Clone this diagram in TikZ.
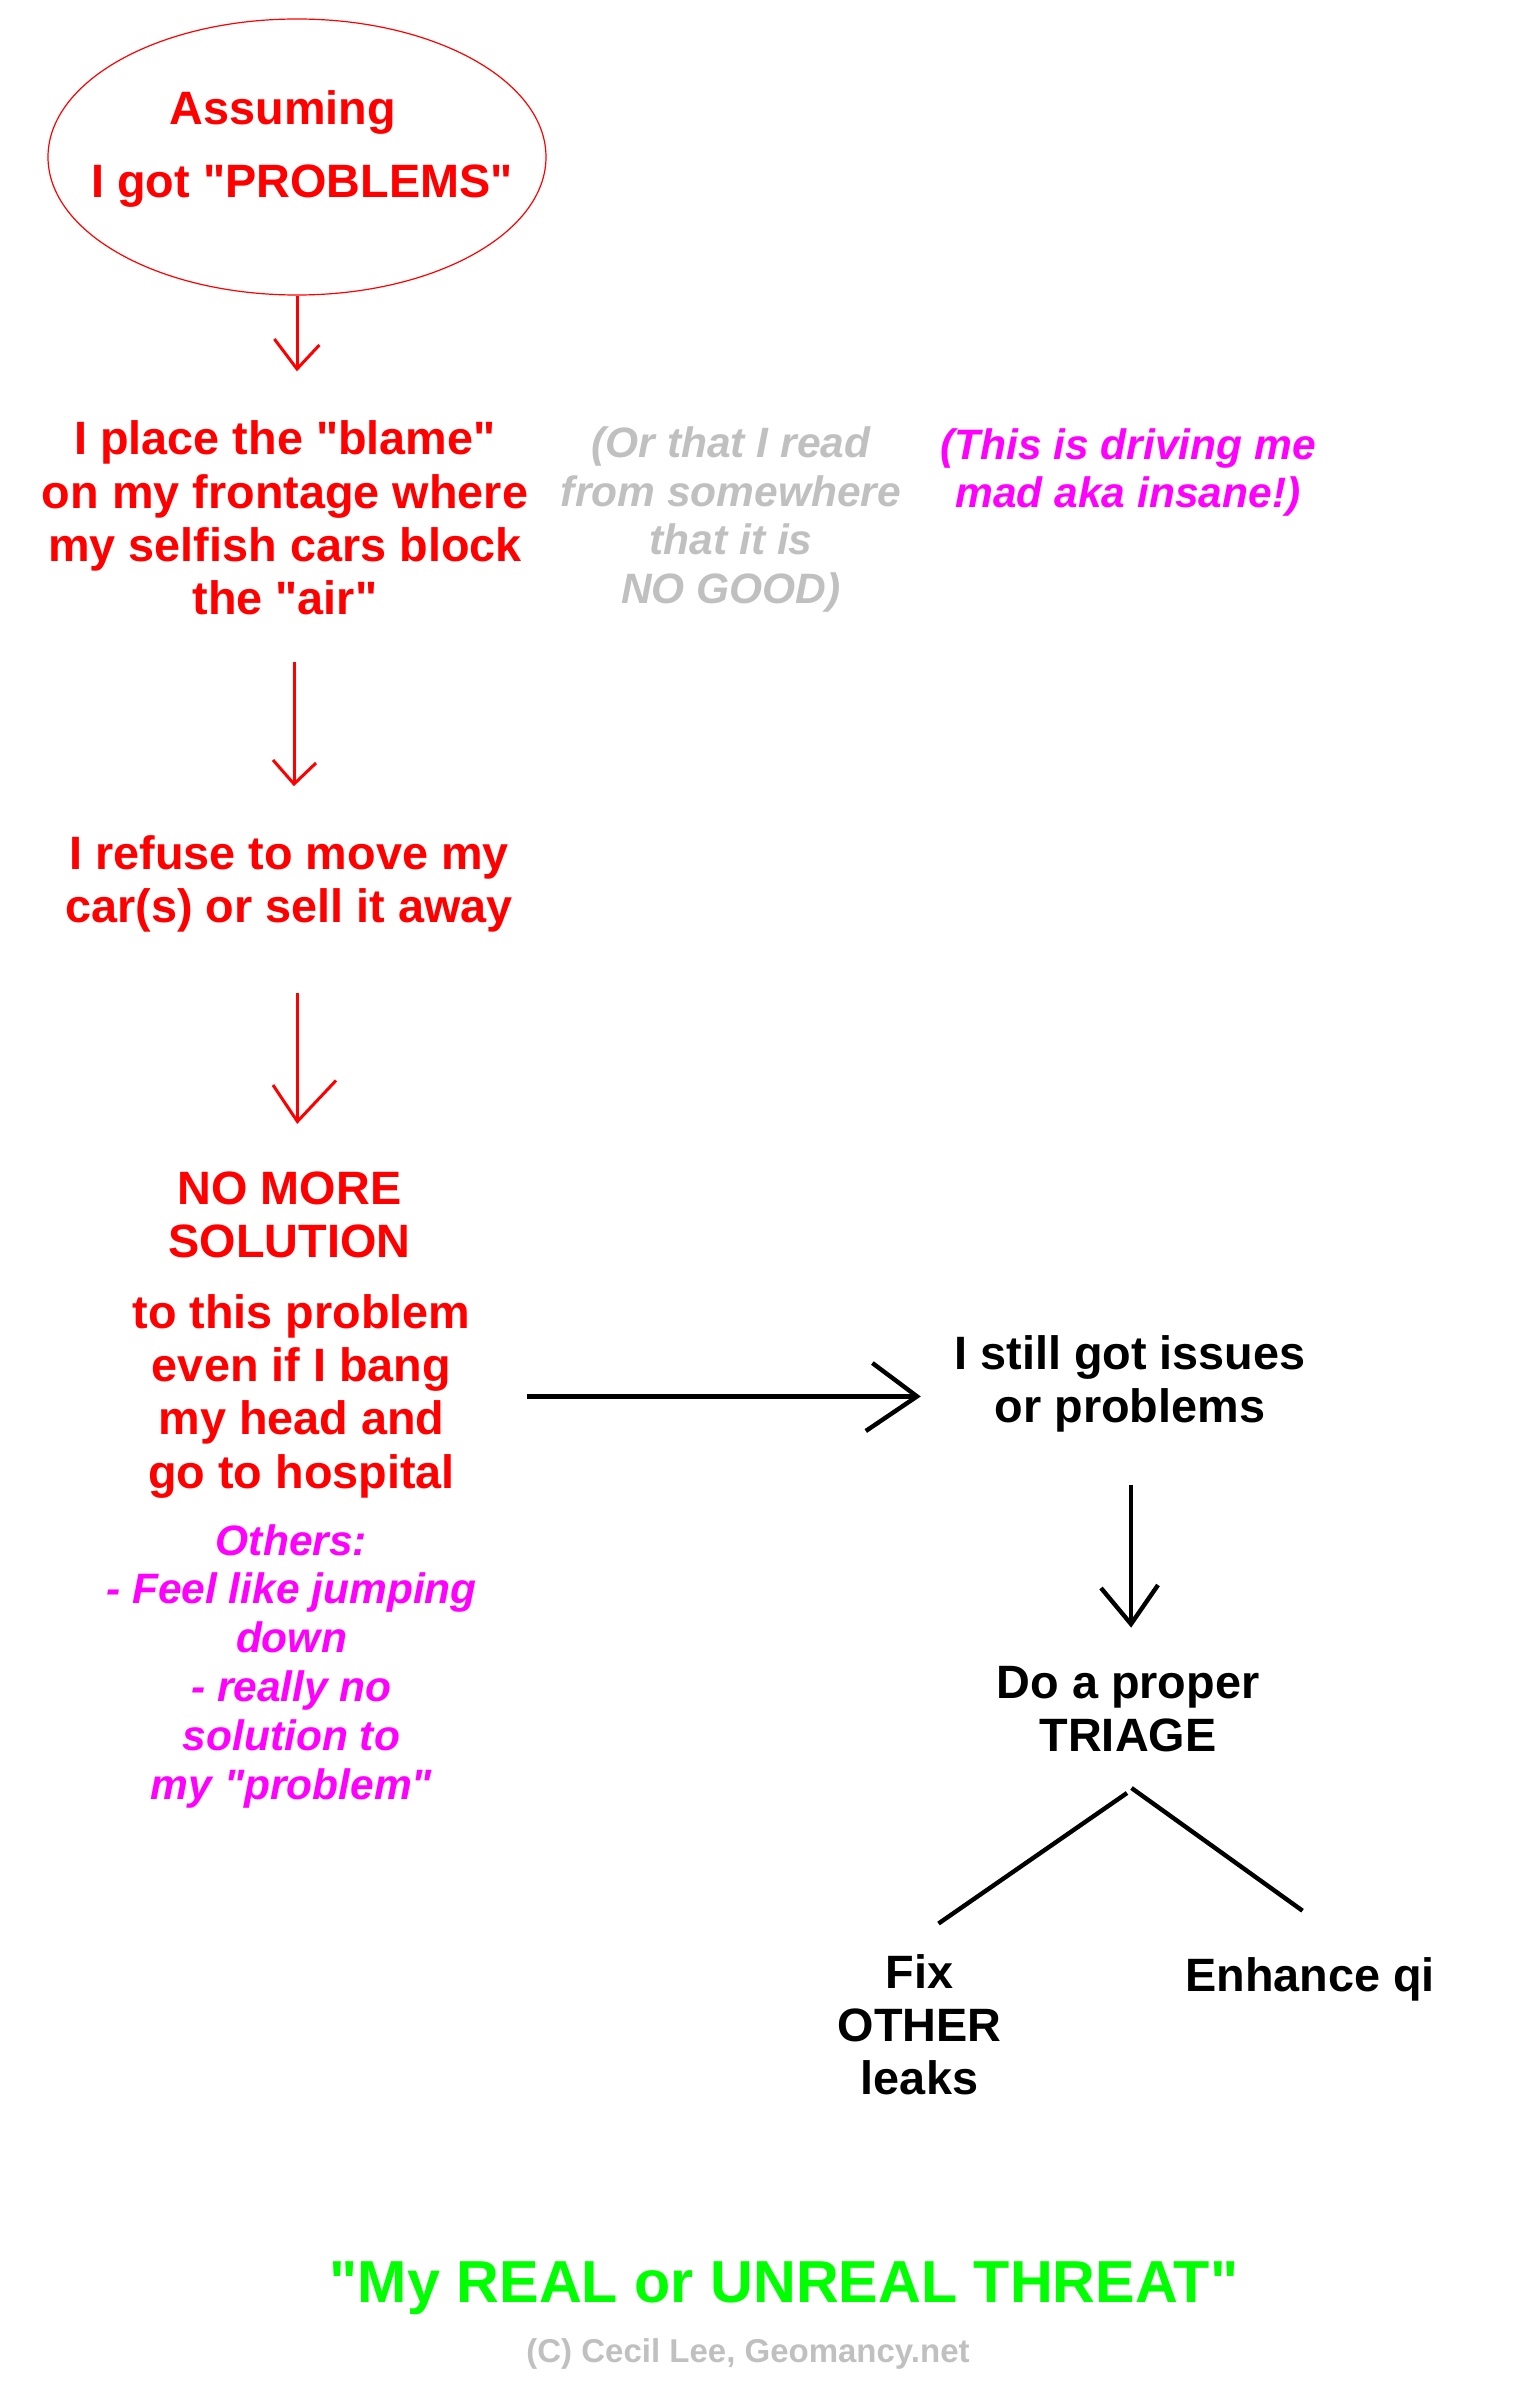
\documentclass[tikz,border=0pt]{standalone}
\usepackage{fontspec}
\setmainfont{Liberation Sans}[Ligatures=TeXOff]
\usetikzlibrary{calc,shapes.geometric}
\definecolor{cred}{RGB}{255,0,0}
\definecolor{cmag}{RGB}{255,0,255}
\definecolor{cgray}{RGB}{192,192,192}
\definecolor{cgreen}{RGB}{0,255,0}
\newcommand\mainfs{\fontsize{46.8}{53.4}\selectfont\bfseries}
\newcommand\notefs{\fontsize{42.5}{48.6}\selectfont\bfseries\itshape}
\newcommand\otherfs{\fontsize{42.5}{48.8}\selectfont\bfseries\itshape}
\newcommand\titlefs{\fontsize{59.3}{68}\selectfont\bfseries}
\newcommand\copyfs{\fontsize{33}{38}\selectfont\bfseries}
\newcommand\ml[1]{\begin{tabular}[t]{@{}c@{}}#1\end{tabular}}
\tikzset{
  txt/.style={inner sep=0pt, anchor=base},
  mainred/.style={txt, font=\mainfs, text=cred},
  mainblk/.style={txt, font=\mainfs, text=black},
  notegray/.style={txt, font=\notefs, text=cgray},
  notemag/.style={txt, font=\notefs, text=cmag},
  redln/.style={draw=cred, line width=3pt},
  blkln/.style={draw=black, line width=4.4pt},
}
\begin{document}
\begin{tikzpicture}[x=1pt,y=-1pt]
\path[use as bounding box, fill=white] (0,0) rectangle (1515,2405);

% nodes
\node[ellipse, draw=cred, line width=1.2pt, minimum width=498pt, minimum height=276pt, inner sep=0pt] (start) at (297,157) {};
\node[mainred] (startA) at (283,124.5) {Assuming};
\node[mainred] (startB) at (302,198) {I got "PROBLEMS"};

\node[mainred] (blame) at (285,454.6) {\ml{I place the "blame"\\on my frontage where\\my selfish cars block\\the "air"}};
\node[notegray] (aside) at (731,457.6) {\ml{(Or that I read\\from somewhere\\that it is\\NO GOOD)}};
\node[notemag] (mad) at (1128,459) {\ml{(This is driving me\\mad aka insane!)}};

\node[mainred] (refuse) at (289,869) {\ml{I refuse to move my\\car(s) or sell it away}};
\node[mainred] (nomore) at (289.5,1204) {\ml{NO MORE\\SOLUTION}};
\node[mainred] (toprob) at (301.5,1328) {\ml{to this problem\\even if I bang\\my head and\\go to hospital}};
\node[notemag, font=\otherfs] (others) at (291.5,1555) {\ml{Others:\\- Feel like jumping\\down\\- really no\\solution to\\my "problem"}};

\node[mainblk] (issues) at (1130,1369) {\ml{I still got issues\\or problems}};
\node[mainblk] (triage) at (1128,1698) {\ml{Do a proper\\TRIAGE}};
\node[mainblk] (fix) at (919.5,1988) {\ml{Fix\\OTHER\\leaks}};
\node[mainblk] (enhance) at (1310,1991.5) {Enhance qi};

\node[txt, font=\titlefs, text=cgreen] (title) at (784,2302.7) {"My REAL or UNREAL THREAT"};
\node[txt, font=\copyfs, text=cgray] (copy) at (748,2362.3) {(C) Cecil Lee, Geomancy.net};

% arrow 1
\draw[redln] (start.south) -- ($(blame.base)+(12,-85.6)$) coordinate (t1);
\draw[redln] ($(t1)+(-22.6,-30)$) -- (t1) -- ++(22.4,-24);
% arrow 2
\draw[redln] ($(blame.base)+(9,207.4)$) -- ($(refuse.base)+(5,-85)$) coordinate (t2);
\draw[redln] ($(t2)+(-21,-24)$) -- (t2) -- ++(22,-21);
% arrow 3
\draw[redln] ($(refuse.base)+(8.4,123.5)$) -- ($(nomore.base)+(7.9,-82.5)$) coordinate (t3);
\draw[redln] ($(t3)+(-24.4,-36.5)$) -- (t3) -- ++(38.6,-41);
% horizontal arrow
\draw[blkln] ($(toprob.base)+(225,68.4)$) -- ($(issues.base)+(-213,27.4)$) coordinate (t4);
\draw[blkln] ($(t4)+(-44.6,-33.4)$) -- (t4) -- ++(-51.2,34.6);
% vertical black arrow
\draw[blkln] ($(issues.base)+(1,115.7)$) -- ($(triage.base)+(3,-74)$) coordinate (t5);
\draw[blkln] ($(t5)+(-30,-36)$) -- (t5) -- ++(27,-39);
% triage branches
\draw[blkln] ($(triage.base)+(-1,95)$) -- ($(fix.base)+(19,-64.5)$);
\draw[blkln] ($(triage.base)+(3.5,90)$) -- ($(enhance.base)+(-7.5,-80.8)$);
\end{tikzpicture}
\end{document}
